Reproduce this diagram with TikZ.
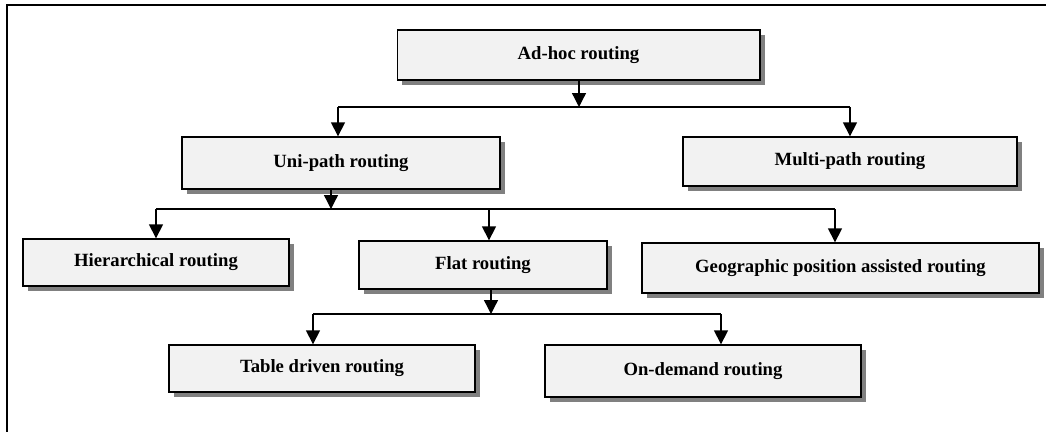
\documentclass[tikz,border=0pt]{standalone}
\usepackage{fontspec}
\setmainfont{Liberation Serif}
\usepackage{tikz}
\usetikzlibrary{arrows.meta,shadows}

\definecolor{boxfill}{RGB}{242,242,242}
\tikzset{
  box/.style={draw, line width=1pt, fill=boxfill, inner sep=0pt,
    font=\bfseries\fontsize{14}{16}\selectfont,
    drop shadow={shadow xshift=3.75pt, shadow yshift=-3.75pt, fill=gray, opacity=1}},
  arr/.style={line width=1pt, -{Triangle[width=10.5pt,length=10.5pt]}},
  bar/.style={line width=1pt}
}

\begin{document}
\begin{tikzpicture}[x=0.75pt,y=-0.75pt]
\useasboundingbox (0,0) rectangle (1046,432);
\draw[line width=1.5pt] (1046,5) -- (7,5) -- (7,432);

% boxes
\node[box, minimum width=272pt, minimum height=37.5pt] (adhoc) at (578.5,55) {Ad-hoc routing};
\node[box, minimum width=238.5pt, minimum height=39pt] (uni) at (341,163) {Uni-path routing};
\node[box, minimum width=250.5pt, minimum height=36.75pt] (multi) at (850,161.5) {Multi-path routing};
\node[box, minimum width=199.5pt, minimum height=35.25pt] (hier) at (156,262.5) {Hierarchical routing};
\node[box, minimum width=186pt, minimum height=36pt] (flat) at (483,265) {Flat routing};
\node[box, minimum width=297.75pt, minimum height=37.5pt] (geo) at (840.5,268) {Geographic position assisted routing};
\node[box, minimum width=229.5pt, minimum height=35.25pt] (table) at (322,368.5) {Table driven routing};
\node[box, minimum width=237pt, minimum height=39pt] (ondemand) at (703,371) {On-demand routing};

% junctions on the bars
\coordinate (j1) at (579,107);
\coordinate (j1l) at (338,107);
\coordinate (j1r) at (850,107);
\coordinate (j2) at (331,209);
\coordinate (j2l) at (156,209);
\coordinate (j2m) at (489,209);
\coordinate (j2r) at (835,209);
\coordinate (j3) at (491,314);
\coordinate (j3l) at (313,314);
\coordinate (j3r) at (721,314);

% level 1
\draw[arr] (adhoc.south -| j1) -- (j1);
\draw[bar] (j1l) -- (j1r);
\draw[arr] (j1l) -- (j1l |- uni.north);
\draw[arr] (j1r) -- (j1r |- multi.north);

% level 2
\draw[arr] (uni.south -| j2) -- (j2);
\draw[bar] (j2l) -- (j2r);
\draw[arr] (j2l) -- (j2l |- hier.north);
\draw[arr] (j2m) -- (j2m |- flat.north);
\draw[arr] (j2r) -- (j2r |- geo.north);

% level 3
\draw[arr] (flat.south -| j3) -- (j3);
\draw[bar] (j3l) -- (j3r);
\draw[arr] (j3l) -- (j3l |- table.north);
\draw[arr] (j3r) -- (j3r |- ondemand.north);
\end{tikzpicture}
\end{document}
